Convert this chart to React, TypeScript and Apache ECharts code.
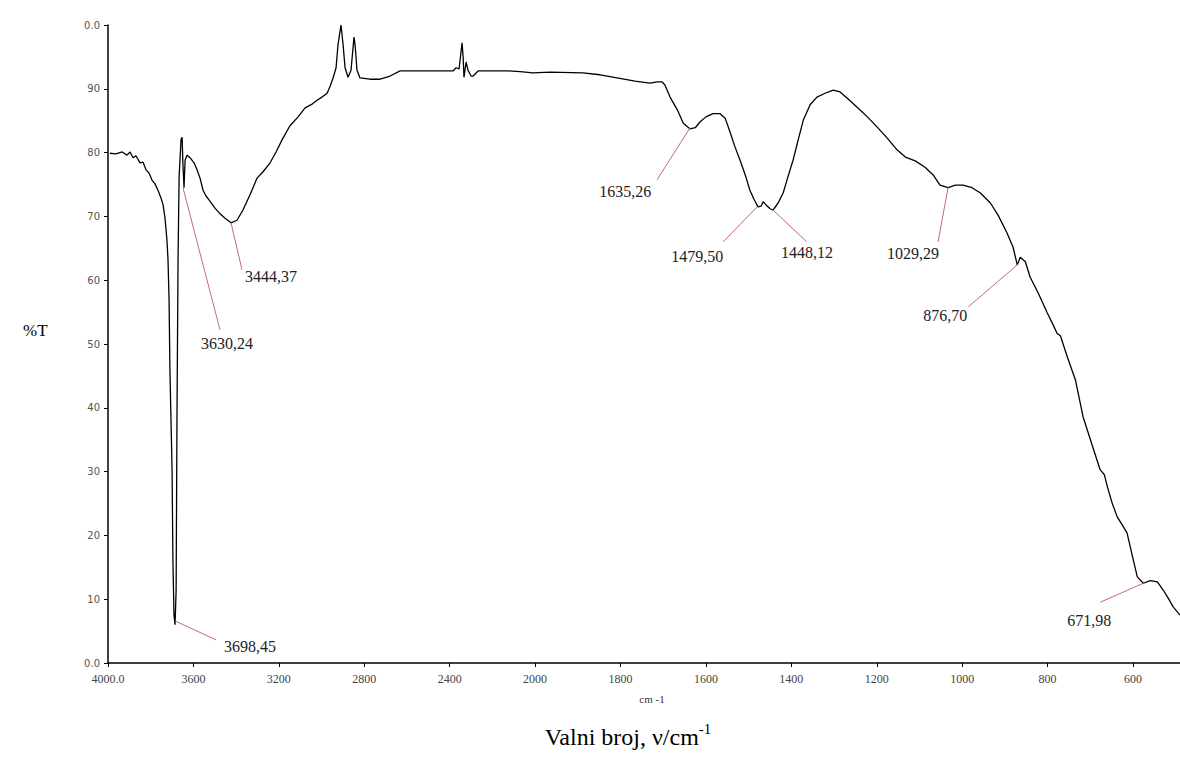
import React, { useEffect, useRef } from "react";
import * as echarts from "echarts";

// Spectrum (wavenumber in cm-1, transmittance in %T)
const wavenumbers = [
  3991, 3963, 3934, 3911, 3897, 3883, 3869, 3850, 3836, 3822, 3808, 3794, 3780, 3766, 3752, 3742, 3733, 3724, 3719, 3714,
  3710, 3700, 3696, 3691, 3686, 3681, 3677, 3672, 3667, 3658, 3653, 3649, 3644, 3639, 3630, 3616, 3597, 3583, 3569, 3555,
  3541, 3527, 3499, 3475, 3452, 3424, 3396, 3368, 3335, 3302, 3274, 3241, 3213, 3185, 3148, 3110, 3077, 3044, 3021, 2998,
  2974, 2960, 2946, 2932, 2923, 2909, 2899, 2890, 2876, 2862, 2848, 2843, 2834, 2820, 2773, 2726, 2679, 2632, 2384, 2370,
  2356, 2342, 2337, 2333, 2323, 2314, 2300, 2290, 2267, 2126, 2070, 2010, 1965, 1888, 1848, 1808, 1766, 1731, 1714, 1703,
  1696, 1684, 1667, 1653, 1637, 1625, 1614, 1600, 1583, 1567, 1555, 1543, 1532, 1520, 1508, 1497, 1487, 1478, 1471, 1466,
  1459, 1450, 1443, 1431, 1419, 1408, 1396, 1384, 1372, 1356, 1340, 1321, 1302, 1286, 1267, 1246, 1222, 1199, 1176, 1152,
  1133, 1110, 1087, 1068, 1052, 1033, 1016, 998, 977, 958, 934, 916, 895, 881, 871, 864, 852, 841, 822, 801,
  787, 778, 770, 754, 735, 717, 696, 677, 667, 660, 649, 637, 625, 614, 602, 590, 576, 560, 543, 529,
  518, 506, 490,
];
const transmittance = [
  79.9, 79.8, 80.1, 79.6, 80.1, 79.2, 79.5, 78.4, 78.5, 77.3, 76.8, 75.7, 75.1, 74.1, 72.9, 71.8, 69.7, 66.3, 63.2, 56.9,
  45.9, 30.3, 16.1, 7.5, 6.0, 11.4, 38.1, 63.2, 76.2, 82.0, 82.4, 78.1, 74.5, 78.8, 79.6, 79.2, 78.4, 77.3, 76.0, 74.1,
  73.2, 72.6, 71.3, 70.4, 69.7, 69.0, 69.4, 71.0, 73.4, 76.0, 77.0, 78.4, 80.1, 82.0, 84.2, 85.6, 87.0, 87.6, 88.2, 88.7,
  89.3, 90.4, 91.7, 93.3, 96.9, 100.0, 96.9, 93.3, 91.8, 92.9, 98.1, 96.9, 92.9, 91.7, 91.5, 91.5, 92.0, 92.8, 92.8, 93.3,
  93.1, 97.2, 95.0, 91.8, 94.2, 92.9, 92.0, 92.0, 92.8, 92.8, 92.7, 92.5, 92.6, 92.5, 92.2, 91.7, 91.2, 90.9, 91.1, 91.1,
  90.6, 88.7, 86.7, 84.6, 83.7, 83.9, 84.8, 85.6, 86.1, 86.1, 85.4, 83.1, 80.9, 78.8, 76.5, 74.1, 72.6, 71.5, 71.6, 72.3,
  71.8, 71.2, 71.0, 72.1, 73.7, 76.2, 78.8, 82.0, 85.1, 87.5, 88.7, 89.3, 89.8, 89.5, 88.4, 87.1, 85.6, 84.0, 82.3, 80.4,
  79.3, 78.7, 77.7, 76.5, 74.9, 74.5, 74.9, 74.9, 74.5, 73.7, 72.1, 70.2, 67.4, 65.2, 62.4, 63.6, 62.9, 60.5, 58.0, 54.9,
  53.0, 51.7, 51.3, 48.0, 44.4, 38.6, 34.2, 30.3, 29.5, 27.6, 25.1, 22.9, 21.6, 20.4, 16.9, 13.5, 12.5, 12.9, 12.7, 11.4,
  10.2, 8.8, 7.5,
];

// Axis ticks
const xTickWavenumbers = [4000, 3600, 3200, 2800, 2400, 2000, 1800, 1600, 1400, 1200, 1000, 800, 600];
const xTickLabels = ["4000.0", "3600", "3200", "2800", "2400", "2000", "1800", "1600", "1400", "1200", "1000", "800", "600"];
const yTickValues = [0, 10, 20, 30, 40, 50, 60, 70, 80, 90, 100];
const yTickLabels = ["0.0", "10", "20", "30", "40", "50", "60", "70", "80", "90", "0.0"];

// Peak annotations
const peakLabels = ["3698,45", "3630,24", "3444,37", "1635,26", "1479,50", "1448,12", "1029,29", "876,70", "671,98"];
const peakWavenumbers = [3686, 3649, 3424, 1637, 1480, 1443, 1033, 871, 576];
const peakTransmittance = [6.6, 74.5, 69.0, 83.9, 71.5, 71.0, 74.5, 62.4, 12.5];
// styling offsets (px): leader end dx, dy, text centre dx, dy
const peakOffsets = [
  [41, 19, 75, 26],
  [37, 142, 44, 156],
  [11, 47, 40, 54],
  [-33, 52, -65, 64],
  [-34, 35, -60, 50],
  [34, 32, 34, 42],
  [-10, 54, -35, 66],
  [-49, 42, -72, 51],
  [-43, 19, -54, 37],
];

const X_MIN_WN = 490;

// Instrument-style split scale: 4000-2000 compressed by 2
function toAxis(wn: number): number {
  return wn >= 2000 ? (4000 - wn) / 2 : 1000 + (2000 - wn);
}

export default function App() {
  const ref = useRef<HTMLDivElement>(null);

  useEffect(() => {
    if (!ref.current) return;
    const chart = echarts.init(ref.current, undefined, { renderer: "svg" });

    const lineData = wavenumbers.map((w, i) => [toAxis(w), transmittance[i]]);
    const peakData = peakWavenumbers.map((w, i) => [toAxis(w), peakTransmittance[i]]);
    const xTickPos = xTickWavenumbers.map(toAxis);

    chart.setOption({
      animation: false,
      backgroundColor: "#ffffff",
      grid: { left: 108, right: 0, top: 25, bottom: 102, containLabel: false },
      xAxis: {
        type: "value",
        min: 0,
        max: toAxis(X_MIN_WN),
        splitLine: { show: false },
        axisLine: { show: true, onZero: false, lineStyle: { color: "#000", width: 1.5 } },
        axisTick: { show: true, customValues: xTickPos, length: 4, lineStyle: { color: "#000" } },
        axisLabel: {
          customValues: xTickPos,
          formatter: (v: number) => {
            const idx = xTickPos.findIndex((p) => Math.abs(p - v) < 0.5);
            return idx >= 0 ? xTickLabels[idx] : "";
          },
          color: "#444",
          fontFamily: "Liberation Serif",
          fontSize: 12,
          margin: 10,
        },
      },
      yAxis: {
        type: "value",
        min: 0,
        max: 100,
        interval: 10,
        splitLine: { show: false },
        axisLine: { show: true, lineStyle: { color: "#000", width: 1.5 } },
        axisTick: { show: true, length: 4, lineStyle: { color: "#000" } },
        axisLabel: {
          formatter: (v: number) => {
            const idx = yTickValues.indexOf(v);
            return idx >= 0 ? yTickLabels[idx] : "";
          },
          color: "#555",
          fontFamily: "DejaVu Sans",
          fontSize: 10,
          margin: 8,
        },
      },
      series: [
        {
          type: "line",
          data: lineData,
          showSymbol: false,
          symbol: "none",
          lineStyle: { color: "#000", width: 1.3 },
          z: 3,
        },
        {
          type: "custom",
          data: peakData,
          clip: false,
          z: 4,
          renderItem: (params: any, api: any) => {
            const p = api.coord([api.value(0), api.value(1)]);
            const i = params.dataIndex;
            const o = peakOffsets[i];
            return {
              type: "group",
              children: [
                {
                  type: "line",
                  shape: { x1: p[0], y1: p[1], x2: p[0] + o[0], y2: p[1] + o[1] },
                  style: { stroke: "#c56874", lineWidth: 1 },
                },
                {
                  type: "text",
                  x: p[0] + o[2],
                  y: p[1] + o[3],
                  style: {
                    text: peakLabels[i],
                    font: '16px "Liberation Serif"',
                    fill: "#222",
                    align: "center",
                    verticalAlign: "middle",
                  },
                },
              ],
            };
          },
        },
      ],
      graphic: [
        {
          type: "text",
          x: 23,
          y: 330,
          style: {
            text: "%T",
            font: '17px "Liberation Serif"',
            fill: "#000",
            verticalAlign: "middle",
          },
        },
        {
          type: "text",
          x: 652,
          y: 699,
          style: {
            text: "cm -1",
            font: '11px "Liberation Serif"',
            fill: "#333",
            align: "center",
            verticalAlign: "middle",
          },
        },
        {
          type: "text",
          x: 628,
          y: 737,
          style: {
            text: "{m|Valni broj, ν/cm}{s|-1}",
            align: "center",
            verticalAlign: "middle",
            rich: {
              m: { fontSize: 24, fontFamily: "Liberation Serif", fill: "#000" },
              s: { fontSize: 15, fontFamily: "Liberation Serif", fill: "#000", padding: [0, 0, 16, 0] },
            },
          },
        },
      ],
    });

    return () => chart.dispose();
  }, []);

  return (
    <div
      ref={ref}
      style={{ position: "absolute", left: 0, top: 0, width: 1180, height: 765 }}
    />
  );
}
